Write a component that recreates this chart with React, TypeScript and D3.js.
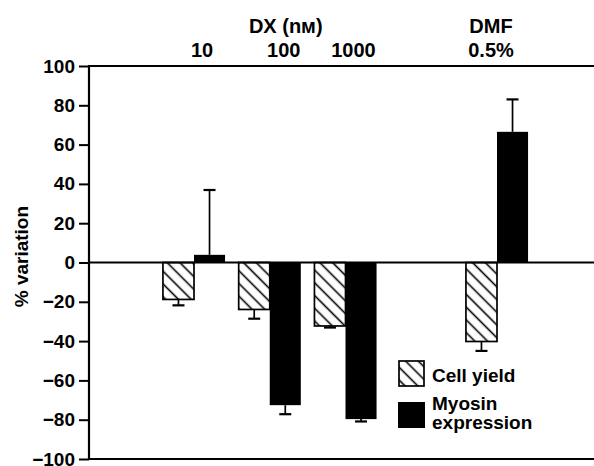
import { useRef, useEffect } from 'react';
import { axisLeft, scaleLinear, scalePoint, select } from 'd3';

// groups along the top (the blank slot is the gap before DMF)
const groups = ['10', '100', '1000', 'DMF'];
const slots = ['10', '100', '1000', 'gap', 'DMF'];
const topLabels = ['10', '100', '1000', '0.5%'];

// % variation
const cellYield = [-18.8, -23.9, -32.3, -40.2];
const cellYieldErr = [3, 4.7, 0.8, 4.8];
const myosin = [3.9, -72.6, -79.7, 66.5];
const myosinErr = [33, 4.6, 1.2, 16.5];

const yTicks = [100, 80, 60, 40, 20, 0, -20, -40, -60, -80, -100];

const W = 594;
const H = 466;
const FONT = '"Liberation Sans", Arial, Helvetica, sans-serif';

const AxisLeft = ({ scale, x }) => {
  const ref = useRef(null);
  useEffect(() => {
    if (ref.current) {
      const g = select(ref.current);
      g.call(
        axisLeft(scale)
          .tickValues(yTicks)
          .tickSize(10)
          .tickPadding(4)
          .tickFormat((d) => (d < 0 ? '\u2212' + Math.abs(d) : String(d)))
      );
      g.select('.domain').remove();
      g.selectAll('.tick line').attr('stroke', '#000').attr('stroke-width', 2);
      g.selectAll('.tick text')
        .attr('fill', '#000')
        .style('font-family', FONT)
        .style('font-weight', 'bold')
        .style('font-size', '19px');
    }
  }, [scale]);
  return <g ref={ref} transform={`translate(${x},0)`} />;
};

const App = () => {
  const left = 89;
  const y = scaleLinear().domain([-100, 100]).range([459, 66]);
  const x = scalePoint().domain(slots).range([194, 497]);
  const barW = x.step() * 0.41;
  const y0 = y(0);

  // small nudges of the printed labels relative to the group centres
  const labelNudge = [8, 14, 8, -6];

  const errBar = (cx, v, e, key) => {
    const end = v >= 0 ? v + e : v - e;
    return (
      <g key={key} stroke="#000" strokeWidth={1.7}>
        <line x1={cx} x2={cx} y1={y(v)} y2={y(end)} />
        <line x1={cx - 6} x2={cx + 6} y1={y(end)} y2={y(end)} strokeWidth={2.2} />
      </g>
    );
  };

  return (
    <div style={{ position: 'absolute', left: 0, top: 0 }}>
      <svg width={W} height={H} style={{ display: 'block', background: '#fff' }}>
        <defs>
          <pattern
            id="hatch"
            patternUnits="userSpaceOnUse"
            width={9}
            height={9}
            patternTransform="rotate(45)"
          >
            <rect width={9} height={9} fill="#fff" />
            <line x1={0} x2={9} y1={4.5} y2={4.5} stroke="#000" strokeWidth={1.6} />
          </pattern>
        </defs>

        {/* top labels */}
        <g fontFamily={FONT} fontWeight="bold" fontSize={20} textAnchor="middle" fill="#000">
          <text x={(x('100') ?? 0) + 16} y={33}>DX (nм)</text>
          <text x={(x('DMF') ?? 0) - 6} y={33}>DMF</text>
          {groups.map((g, i) => (
            <text key={g} x={(x(g) ?? 0) + labelNudge[i]} y={57}>
              {topLabels[i]}
            </text>
          ))}
        </g>

        {/* bars */}
        {groups.map((g, i) => {
          const c = x(g) ?? 0;
          const vy = cellYield[i];
          const vm = myosin[i];
          return (
            <g key={g}>
              <rect
                x={c - barW}
                width={barW}
                y={Math.min(y(vy), y0)}
                height={Math.abs(y(vy) - y0)}
                fill="url(#hatch)"
                stroke="#000"
                strokeWidth={1.7}
              />
              <rect
                x={c}
                width={barW}
                y={Math.min(y(vm), y0)}
                height={Math.abs(y(vm) - y0)}
                fill="#000"
              />
              {errBar(c - barW / 2, vy, cellYieldErr[i], 'ey')}
              {errBar(c + barW / 2, vm, myosinErr[i], 'em')}
            </g>
          );
        })}

        {/* frame */}
        <g stroke="#000" strokeWidth={2.2}>
          <line x1={left} x2={W} y1={y(100)} y2={y(100)} />
          <line x1={left} x2={W} y1={y(-100)} y2={y(-100)} />
          <line x1={left} x2={W} y1={y0} y2={y0} />
          <line x1={left} x2={left} y1={y(100) - 1} y2={y(-100) + 1} />
        </g>
        <AxisLeft scale={y} x={left} />

        <text
          transform={`translate(28,${y(3)}) rotate(-90)`}
          textAnchor="middle"
          fontFamily={FONT}
          fontWeight="bold"
          fontSize={19}
          fill="#000"
        >
          % variation
        </text>

        {/* legend */}
        <g fontFamily={FONT} fontWeight="bold" fontSize={19} fill="#000">
          <rect x={399} y={361} width={25} height={25} fill="url(#hatch)" stroke="#000" strokeWidth={1.7} />
          <text x={432} y={382}>Cell yield</text>
          <rect x={398} y={402} width={27} height={26} fill="#000" />
          <text x={432} y={410}>Myosin</text>
          <text x={432} y={429}>expression</text>
        </g>
      </svg>
    </div>
  );
};

export default App;
